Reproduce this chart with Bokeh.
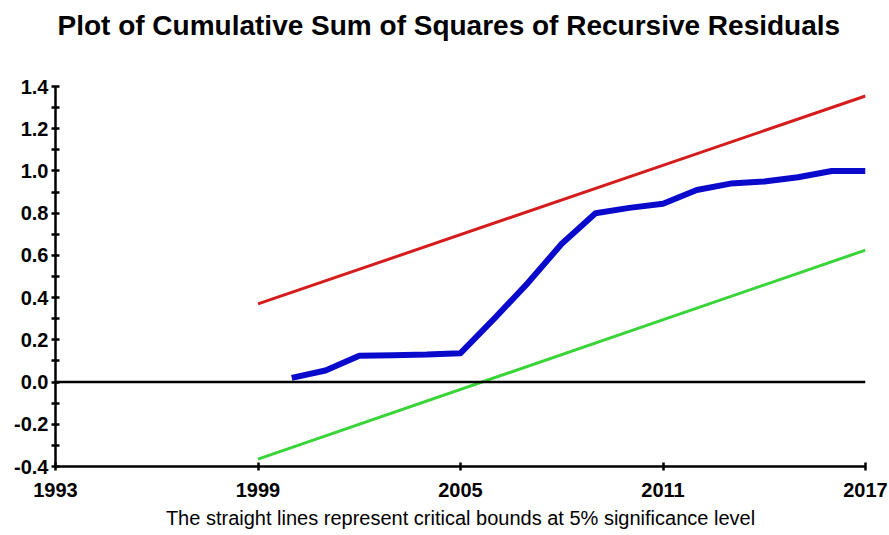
from bokeh.plotting import figure
from bokeh.models import FixedTicker, Span, Title
from bokeh.embed import file_html
from bokeh.resources import INLINE

# Cumulative sum of squares of recursive residuals, annual
years = [2000, 2001, 2002, 2003, 2004, 2005, 2006, 2007, 2008,
         2009, 2010, 2011, 2012, 2013, 2014, 2015, 2016, 2017]
cusumsq = [0.02, 0.055, 0.125, 0.127, 0.13, 0.137, 0.30, 0.47, 0.655,
           0.80, 0.825, 0.845, 0.91, 0.94, 0.95, 0.97, 1.0, 1.0]

# 5% critical bounds (straight lines)
bound_years = [1999, 2017]
upper_bound = [0.37, 1.355]
lower_bound = [-0.365, 0.625]

x_ticks = [1993, 1999, 2005, 2011, 2017]
y_ticks = [-0.4, -0.2, 0.0, 0.2, 0.4, 0.6, 0.8, 1.0, 1.2, 1.4]
y_minor = [-0.3, -0.1, 0.1, 0.3, 0.5, 0.7, 0.9, 1.1, 1.3]

W, H = 889, 535
LEFT, RIGHT, TOP, BOTTOM = 55, 24, 86, 69
FONT = "Liberation Sans"

p = figure(width=W, height=H, output_backend="svg", toolbar_location=None,
           x_range=(1993, 2017), y_range=(-0.4, 1.4),
           min_border_left=LEFT, min_border_right=RIGHT,
           min_border_top=TOP, min_border_bottom=BOTTOM)
p.outline_line_color = None
p.grid.visible = False
p.background_fill_color = "white"
p.border_fill_color = "white"

for axes in (p.xaxis, p.yaxis):
    axes.axis_line_color = "black"
    axes.axis_line_width = 2.5
    axes.major_tick_line_color = "black"
    axes.major_tick_line_width = 2.5
    axes.major_tick_in = 4
    axes.major_tick_out = 4
    axes.major_label_text_font = FONT
    axes.major_label_text_font_style = "bold"
    axes.major_label_text_font_size = "20px"
    axes.major_label_text_color = "black"

p.xaxis.ticker = FixedTicker(ticks=x_ticks)
p.xaxis.minor_tick_line_color = None
p.xaxis.major_label_standoff = 12
p.xaxis.major_label_overrides = {t: str(t) for t in x_ticks}
# the footnote sits under the year labels as the x axis label
p.xaxis.axis_label = "The straight lines represent critical bounds at 5% significance level"
p.xaxis.axis_label_text_font = FONT
p.xaxis.axis_label_text_font_style = "normal"
p.xaxis.axis_label_text_font_size = "20px"
p.xaxis.axis_label_text_color = "black"
p.xaxis.axis_label_standoff = 7

p.yaxis.ticker = FixedTicker(ticks=y_ticks, minor_ticks=y_minor)
p.yaxis.minor_tick_line_color = "black"
p.yaxis.minor_tick_line_width = 2.5
p.yaxis.minor_tick_in = 4
p.yaxis.minor_tick_out = 4
p.yaxis.major_label_standoff = 3
p.yaxis.major_label_overrides = {t: f"{t:.1f}" for t in y_ticks}

# zero reference line
p.add_layout(Span(location=0, dimension="width", line_color="black",
                  line_width=2.5))

p.line(bound_years, upper_bound, line_color="#d41c1c", line_width=3)
p.line(bound_years, lower_bound, line_color="#38d438", line_width=3)
p.line(years, cusumsq, line_color="#0a0acc", line_width=6,
       line_join="round")

# blank gap between the heading and the plotting area
p.add_layout(Title(text=" ", text_font_size="1px", standoff=41), "above")
p.add_layout(Title(text="Plot of Cumulative Sum of Squares of Recursive Residuals",
                   align="left", offset=2, standoff=0, vertical_align="top",
                   text_font=FONT, text_font_style="bold",
                   text_font_size="28px", text_color="black"), "above")

open("out.html", "w").write(file_html(p, INLINE))
